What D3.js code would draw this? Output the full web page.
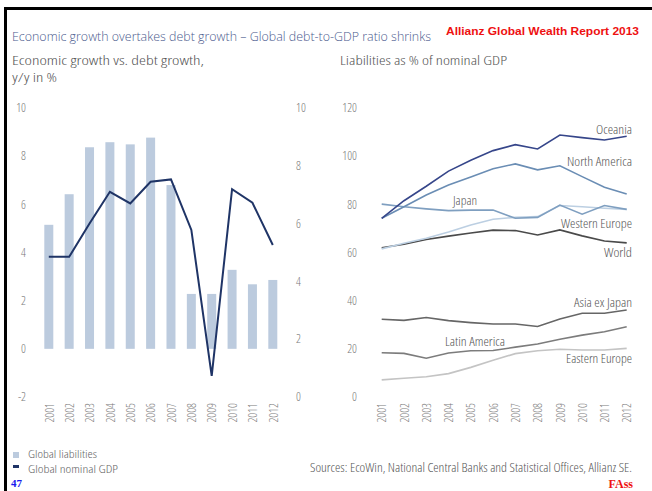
<!DOCTYPE html>
<html>
<head>
<meta charset="utf-8">
<script src="https://cdnjs.cloudflare.com/ajax/libs/d3/7.8.5/d3.min.js"></script>
<style>
  body { margin: 0; background: #fff; }
  svg { display: block; }
  svg text { font-family: "Open Sans", sans-serif; font-stretch: condensed; font-weight: 300; }
</style>
</head>
<body>
<svg id="chart" width="652" height="491"></svg>
<script>
// data
var years = ["2001","2002","2003","2004","2005","2006","2007","2008","2009","2010","2011","2012"];
var globalLiabilities = [5.15, 6.42, 8.37, 8.58, 8.49, 8.77, 6.8, 2.28, 2.28, 3.28, 2.68, 2.86];
var globalGDP = [4.85, 4.85, 6.0, 7.1, 6.7, 7.45, 7.53, 5.78, 0.73, 7.19, 6.72, 5.26];
var leftTicks = [-2, 0, 2, 4, 6, 8, 10];
var rightTicks = [0, 2, 4, 6, 8, 10];
var gdpTicks = [0, 20, 40, 60, 80, 100, 120];

var regions = ["World", "Western Europe", "Japan", "North America", "Oceania",
               "Eastern Europe", "Latin America", "Asia ex Japan"];
var oceania = [74.2, 81.5, 87.5, 93.8, 98.3, 102.3, 104.8, 103.0, 108.8, 107.7, 106.7, 108.3];
var northAmerica = [74.2, 79.0, 83.9, 88.0, 91.4, 94.8, 96.8, 94.3, 96.0, 91.5, 87.1, 84.3];
var japan = [80.1, 79.0, 78.1, 77.4, 77.6, 77.6, 74.2, 74.6, 79.7, 75.9, 79.5, 77.9];
var westernEurope = [61.5, 63.8, 65.9, 68.5, 71.4, 73.8, 74.6, 74.9, 79.5, 79.0, 78.4, 77.9];
var world = [62.0, 63.4, 65.4, 66.8, 68.1, 69.3, 69.1, 67.3, 69.4, 66.9, 64.8, 64.0];
var asiaExJapan = [32.3, 31.8, 33.0, 31.7, 30.9, 30.3, 30.3, 29.3, 32.4, 34.8, 34.8, 36.1];
var latinAmerica = [18.4, 18.1, 16.1, 18.3, 19.2, 19.3, 20.7, 22.0, 24.0, 25.7, 27.1, 29.2];
var easternEurope = [7.1, 7.8, 8.4, 9.7, 12.3, 15.3, 18.0, 19.2, 19.8, 19.5, 19.5, 20.2];
var regionValues = [world, westernEurope, japan, northAmerica, oceania, easternEurope, latinAmerica, asiaExJapan];

// styling for the region lines and their labels
var regionColor = ["#4a4a4a", "#bccfe2", "#7f9fc0", "#6a8db4", "#36468a", "#c4c4c4", "#7c7c7c", "#666666"];
var labelPos = {
  "World": [632, 257, "end", 28],
  "Western Europe": [632, 228, "end", 71],
  "Japan": [465, 205, "middle", 24],
  "North America": [632, 166, "end", 65],
  "Oceania": [632, 134, "end", 36],
  "Eastern Europe": [632, 363, "end", 66],
  "Latin America": [475, 346, "middle", 60],
  "Asia ex Japan": [632, 307, "end", 58]
};

var svg = d3.select("#chart");
var labelColor = "#7a7a7a";

function fitText(x, y, str, w, size, fill) {
  return svg.append("text").attr("x", x).attr("y", y)
    .attr("font-size", size).attr("fill", fill)
    .attr("textLength", w).attr("lengthAdjust", "spacingAndGlyphs")
    .text(str);
}

// frame
svg.append("rect").attr("x", 4).attr("y", 7).attr("width", 652).attr("height", 3).attr("fill", "#000");
svg.append("rect").attr("x", 4).attr("y", 7).attr("width", 3).attr("height", 491).attr("fill", "#000");

// titles
fitText(12, 41, "Economic growth overtakes debt growth \u2013 Global debt-to-GDP ratio shrinks", 419, 13.5, "#4b5b8e")
  .style("font-stretch", "normal");
fitText(446, 35, "Allianz Global Wealth Report 2013", 193, 11.5, "#ee1111")
  .style("font-weight", "bold").style("font-stretch", "normal")
  .style("font-family", "'Liberation Sans', sans-serif");
fitText(12, 64.5, "Economic growth vs. debt growth,", 192, 12.8, "#555");
fitText(12, 82, "y/y in %", 45, 12.8, "#555");
fitText(340, 65, "Liabilities as % of nominal GDP", 167, 13.5, "#555");

// left chart
var xL = d3.scalePoint().domain(years).range([48.8, 272.8]);
var yL = d3.scaleLinear().domain([-2, 10]).range([397, 108]);
var yR = d3.scaleLinear().domain([0, 10]).range([397, 108]);

svg.append("g").selectAll("rect").data(globalLiabilities).enter().append("rect")
  .attr("x", function(d, i) { return xL(years[i]) - 4.5; })
  .attr("width", 9)
  .attr("y", function(d) { return yL(d); })
  .attr("height", function(d) { return yL(0) - yL(d); })
  .attr("fill", "#bccbde");

var gdpLine = d3.line()
  .x(function(d, i) { return xL(years[i]); })
  .y(function(d) { return yR(d); });
svg.append("path").datum(globalGDP).attr("d", gdpLine)
  .attr("fill", "none").attr("stroke", "#1f3466").attr("stroke-width", 2);

svg.append("g").selectAll("text").data(leftTicks).enter().append("text")
  .attr("x", 26).attr("y", function(d) { return yL(d); }).attr("dy", "0.35em")
  .attr("text-anchor", "end").attr("font-size", 12).attr("fill", labelColor)
  .text(function(d) { return d; });
svg.append("g").selectAll("text").data(rightTicks).enter().append("text")
  .attr("x", 296).attr("y", function(d) { return yR(d); }).attr("dy", "0.35em")
  .attr("font-size", 12).attr("fill", labelColor)
  .text(function(d) { return d; });

svg.append("g").selectAll("text").data(years).enter().append("text")
  .attr("transform", function(d) { return "translate(" + (xL(d) + 0.5) + ",403) rotate(-90)"; })
  .attr("dy", "0.35em").attr("text-anchor", "end")
  .attr("font-size", 12).attr("fill", labelColor)
  .text(function(d) { return d; });

// right chart
var x2 = d3.scalePoint().domain(years).range([381.7, 626.7]);
var y2 = d3.scaleLinear().domain([0, 120]).range([397, 108]);

svg.append("g").selectAll("text").data(gdpTicks).enter().append("text")
  .attr("x", 357).attr("y", function(d) { return y2(d); }).attr("dy", "0.35em")
  .attr("text-anchor", "end").attr("font-size", 12).attr("fill", labelColor)
  .text(function(d) { return d; });

svg.append("g").selectAll("text").data(years).enter().append("text")
  .attr("transform", function(d) { return "translate(" + (x2(d) + 0.5) + ",403) rotate(-90)"; })
  .attr("dy", "0.35em").attr("text-anchor", "end")
  .attr("font-size", 12).attr("fill", labelColor)
  .text(function(d) { return d; });

var line2 = d3.line()
  .x(function(d, i) { return x2(years[i]); })
  .y(function(d) { return y2(d); });

svg.append("g").selectAll("path").data(regionValues).enter().append("path")
  .attr("d", function(v) { return line2(v); })
  .attr("fill", "none").attr("stroke", function(v, i) { return regionColor[i]; })
  .attr("stroke-width", 1.6);

svg.append("g").selectAll("text").data(regions).enter().append("text")
  .attr("x", function(r) { return labelPos[r][0]; })
  .attr("y", function(r) { return labelPos[r][1]; })
  .attr("text-anchor", function(r) { return labelPos[r][2]; })
  .attr("textLength", function(r) { return labelPos[r][3]; })
  .attr("lengthAdjust", "spacingAndGlyphs")
  .attr("font-size", 12.5).attr("fill", "#555")
  .text(function(r) { return r; });

// legend
svg.append("rect").attr("x", 13).attr("y", 452).attr("width", 6).attr("height", 6).attr("fill", "#bccbde");
svg.append("rect").attr("x", 13).attr("y", 465).attr("width", 6).attr("height", 3).attr("fill", "#1f3466");
fitText(28, 458, "Global liabilities", 69, 10.5, "#666");
fitText(28, 472.5, "Global nominal GDP", 90, 10.5, "#666");

fitText(310, 472, "Sources: EcoWin, National Central Banks and Statistical Offices, Allianz SE.", 322, 12.5, "#555");

// page marks
svg.append("text").attr("x", 11).attr("y", 487)
  .style("font-family", "'Liberation Serif', serif").style("font-weight", "bold").style("font-stretch", "normal")
  .attr("font-size", 11).attr("fill", "#1a1aee").text("47");
svg.append("text").attr("x", 633).attr("y", 488).attr("text-anchor", "end")
  .style("font-family", "'Liberation Serif', serif").style("font-weight", "bold").style("font-stretch", "normal")
  .attr("font-size", 12).attr("fill", "#ee1111").text("FAss");
</script>
</body>
</html>
